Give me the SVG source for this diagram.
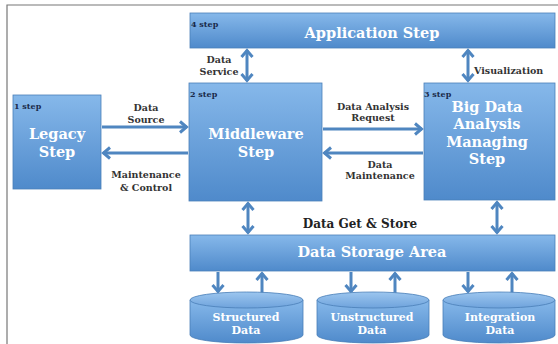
<svg xmlns="http://www.w3.org/2000/svg" width="558" height="344" viewBox="0 0 558 344">
<defs>
<linearGradient id="g" x1="0" y1="0" x2="0" y2="1">
<stop offset="0" stop-color="#86b8ea"/>
<stop offset="1" stop-color="#4f8acb"/>
</linearGradient>
<linearGradient id="gt" x1="0" y1="0" x2="0" y2="1">
<stop offset="0" stop-color="#9cc6ef"/>
<stop offset="1" stop-color="#6fa3dc"/>
</linearGradient>
<marker id="ah" markerUnits="userSpaceOnUse" markerWidth="12" markerHeight="14" viewBox="0 0 12 14" refX="10" refY="7" orient="auto-start-reverse">
<path d="M3,1.5 L9.5,7 L3,12.5" fill="none" stroke="#4f86c0" stroke-width="3" stroke-linejoin="miter"/>
</marker>
</defs>
<style>
.box{fill:url(#g);stroke:#4a7fb8;stroke-width:0.8}
.cyl{fill:url(#g);stroke:#4a7fb8;stroke-width:0.8}
.top{fill:url(#gt);stroke:#4a7fb8;stroke-width:0.8}
.big{font-family:"DejaVu Serif",serif;font-weight:bold;font-size:14.5px;fill:#fff;text-anchor:middle}
.cl{font-family:"DejaVu Serif",serif;font-weight:bold;font-size:11px;fill:#fff;text-anchor:middle}
.lbl{font-family:"DejaVu Serif",serif;font-weight:bold;font-size:9.5px;fill:#333;text-anchor:middle}
.st{font-family:"DejaVu Serif",serif;font-weight:bold;font-size:8px;fill:#1a2a4a}
.c{fill:none;stroke:#4f86c0;stroke-width:3}
.one{marker-end:url(#ah)}
.two{marker-start:url(#ah);marker-end:url(#ah)}
</style>
<rect x="0" y="0" width="558" height="344" fill="#fff"/>
<path d="M7,344 V5 H558" fill="none" stroke="#777" stroke-width="1.2"/>

<g id="connectors">
<line class="c two" x1="247" y1="50" x2="247" y2="81"/>
<line class="c two" x1="468" y1="50" x2="468" y2="81"/>
<line class="c one" x1="102" y1="127" x2="187" y2="127"/>
<line class="c one" x1="188" y1="153" x2="103" y2="153"/>
<line class="c one" x1="323" y1="129" x2="422" y2="129"/>
<line class="c one" x1="423" y1="153" x2="324" y2="153"/>
<line class="c two" x1="248" y1="203" x2="248" y2="233"/>
<line class="c two" x1="497" y1="202" x2="497" y2="233"/>
<line class="c one" x1="218" y1="272" x2="218" y2="292"/>
<line class="c one" x1="262" y1="294" x2="262" y2="273"/>
<line class="c one" x1="351" y1="272" x2="351" y2="292"/>
<line class="c one" x1="395" y1="294" x2="395" y2="273"/>
<line class="c one" x1="468" y1="272" x2="468" y2="292"/>
<line class="c one" x1="512" y1="294" x2="512" y2="273"/>
<text class="lbl" x="219" y="63">Data</text>
<text class="lbl" x="219" y="75">Service</text>
<text class="lbl" x="474" y="74" style="text-anchor:start">Visualization</text>
<text class="lbl" x="146" y="111">Data</text>
<text class="lbl" x="146" y="123">Source</text>
<text class="lbl" x="146" y="178">Maintenance</text>
<text class="lbl" x="146" y="191">&amp; Control</text>
<text class="lbl" x="373" y="110">Data Analysis</text>
<text class="lbl" x="373" y="121">Request</text>
<text class="lbl" x="380" y="168">Data</text>
<text class="lbl" x="380" y="179">Maintenance</text>
<text class="lbl" x="360" y="228" style="font-size:12px;fill:#222">Data Get &amp; Store</text>
</g>

<g id="application">
<rect class="box" x="190" y="13" width="365" height="35"/>
<text class="st" x="191" y="27">4 step</text>
<text class="big" x="372" y="38">Application Step</text>
</g>

<g id="legacy">
<rect class="box" x="13" y="95" width="88" height="94"/>
<text class="st" x="14" y="109">1 step</text>
<text class="big" x="57" y="139">Legacy</text>
<text class="big" x="57" y="157">Step</text>
</g>

<g id="middleware">
<rect class="box" x="189" y="83" width="133" height="118"/>
<text class="st" x="190" y="97">2 step</text>
<text class="big" x="256" y="139">Middleware</text>
<text class="big" x="256" y="157">Step</text>
</g>

<g id="bigdata">
<rect class="box" x="424" y="83" width="131" height="117"/>
<text class="st" x="424" y="97">3 step</text>
<text class="big" x="487" y="112">Big Data</text>
<text class="big" x="487" y="129">Analysis</text>
<text class="big" x="487" y="147">Managing</text>
<text class="big" x="487" y="164">Step</text>
</g>

<g id="storage">
<rect class="box" x="190" y="235" width="365" height="36"/>
<text class="big" x="372" y="257">Data Storage Area</text>
</g>

<g id="structured">
<path class="cyl" d="M190,300 V335 A56.5,8 0 0 0 303,335 V300 Z"/>
<ellipse class="top" cx="246.5" cy="300" rx="56.5" ry="8"/>
<text class="cl" x="246" y="321">Structured</text>
<text class="cl" x="246" y="334">Data</text>
</g>

<g id="unstructured">
<path class="cyl" d="M317,300 V335 A56,8 0 0 0 429,335 V300 Z"/>
<ellipse class="top" cx="373" cy="300" rx="56" ry="8"/>
<text class="cl" x="372" y="321">Unstructured</text>
<text class="cl" x="372" y="334">Data</text>
</g>

<g id="integration">
<path class="cyl" d="M443,300 V335 A56,8 0 0 0 555,335 V300 Z"/>
<ellipse class="top" cx="499" cy="300" rx="56" ry="8"/>
<text class="cl" x="500" y="321">Integration</text>
<text class="cl" x="500" y="334">Data</text>
</g>
</svg>
